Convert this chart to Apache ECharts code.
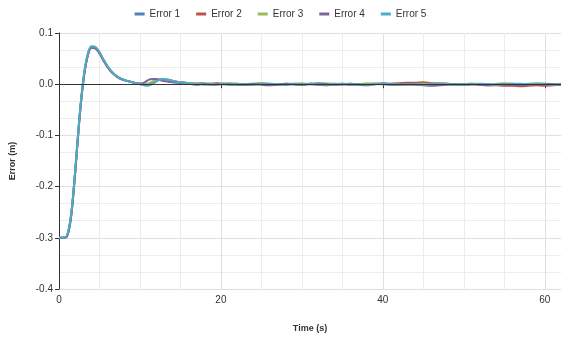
<!DOCTYPE html>
<html>
<head>
<meta charset="utf-8">
<script src="https://cdn.jsdelivr.net/npm/echarts@6/dist/echarts.min.js"></script>
<style>
  html, body { margin: 0; padding: 0; background: #fff; }
  #main { width: 561px; height: 340px; }
</style>
</head>
<body>
<div id="main"></div>
<script>
// time samples (s)
var times = [0,0.5,1,1.5,2,2.5,3,3.5,4,4.5,5,5.5,6,6.5,7,7.5,8,8.5,9,9.5,10,
  10.5,11,11.5,12,12.5,13,13.5,14,14.5,15,15.5,16,16.5,17,17.5,18,18.5,19,19.5,20,
  21,22,23,24,25,26,27,28,29,30,31,32,33,34,35,36,37,38,39,40,
  41,42,43,44,45,46,47,48,49,50,51,52,53,54,55,56,57,58,59,60,61,62];

var seriesNames = ['Error 1', 'Error 2', 'Error 3', 'Error 4', 'Error 5'];
var colors = ['#4f81bd', '#c0504d', '#9bbb59', '#8064a2', '#4bacc6'];

// error values (m)
var error1 = [-0.300,-0.300,-0.296,-0.256,-0.171,-0.071,0.007,0.054,0.072,0.071,
  0.061,0.047,0.034,0.024,0.017,0.012,0.009,0.006,0.004,0.002,
  0.001,0.000,0.001,0.004,0.008,0.009,0.009,0.008,0.006,0.005,
  0.004,0.003,0.002,0.002,0.001,0.001,0.001,0.000,0.001,0.001,0.000,
  0.001,0.000,-0.001,0.000,0.001,0.000,-0.001,0.000,0.001,0.000,
  0.000,-0.001,0.000,0.001,0.000,-0.001,0.000,0.000,0.001,0.000,
  -0.001,0.000,0.001,0.001,0.000,-0.001,0.000,0.000,-0.001,0.000,
  0.001,0.000,0.000,-0.001,-0.001,0.000,0.000,-0.001,0.000,0.000,-0.001,0.000];

var error2 = [-0.300,-0.300,-0.297,-0.258,-0.173,-0.073,0.005,0.052,0.071,0.070,
  0.061,0.047,0.034,0.024,0.017,0.012,0.008,0.006,0.004,0.002,
  0.001,0.000,0.000,0.003,0.007,0.009,0.009,0.008,0.007,0.005,
  0.004,0.003,0.002,0.001,0.001,0.002,0.001,0.000,0.001,0.002,0.001,
  0.000,0.001,-0.001,0.000,0.002,0.000,-0.001,0.001,0.000,-0.001,
  0.001,0.000,-0.002,0.000,0.001,0.000,0.000,-0.001,0.001,0.002,
  0.001,0.002,0.003,0.003,0.004,0.002,0.002,0.001,0.000,-0.001,
  0.000,-0.001,-0.002,-0.002,-0.003,-0.003,-0.004,-0.003,-0.002,-0.003,-0.002,-0.001];

var error3 = [-0.300,-0.300,-0.296,-0.255,-0.170,-0.070,0.008,0.055,0.073,0.072,
  0.062,0.048,0.035,0.025,0.017,0.012,0.009,0.006,0.004,0.002,
  0.001,0.001,0.001,0.005,0.008,0.009,0.008,0.007,0.006,0.005,
  0.004,0.003,0.002,0.002,0.002,0.001,0.001,0.002,0.001,0.000,0.001,
  0.002,0.001,0.000,0.001,0.002,0.001,0.000,-0.001,0.001,0.002,
  0.000,0.001,0.002,0.000,-0.001,0.001,0.000,0.002,0.001,0.000,
  0.001,0.000,-0.001,0.000,0.001,0.000,0.002,0.001,-0.001,0.000,
  0.001,0.000,-0.001,0.001,0.002,0.001,0.000,0.001,0.002,0.001,0.000,0.001];

var error4 = [-0.300,-0.300,-0.297,-0.257,-0.172,-0.072,0.006,0.053,0.071,0.070,
  0.060,0.046,0.033,0.023,0.016,0.011,0.008,0.006,0.004,0.002,
  0.001,0.003,0.008,0.010,0.010,0.008,0.006,0.005,0.004,0.003,
  0.002,0.002,0.001,0.000,-0.001,0.000,0.001,0.000,-0.001,0.000,0.001,
  0.000,-0.001,0.000,0.001,-0.001,-0.002,0.000,0.001,0.000,-0.001,
  0.001,0.002,0.000,-0.001,0.000,0.001,-0.001,-0.002,0.000,0.001,
  0.000,-0.001,0.000,-0.001,-0.002,-0.003,-0.002,-0.001,0.000,-0.001,
  0.000,-0.001,-0.002,-0.001,0.000,-0.001,-0.002,-0.001,0.000,0.001,0.000,-0.001];

var error5 = [-0.300,-0.300,-0.295,-0.254,-0.169,-0.069,0.009,0.056,0.074,0.073,
  0.063,0.048,0.035,0.025,0.017,0.012,0.009,0.006,0.004,0.002,
  0.000,-0.002,-0.003,0.000,0.005,0.009,0.010,0.009,0.007,0.005,
  0.004,0.003,0.002,0.001,0.000,0.000,-0.001,0.000,0.000,-0.001,0.000,
  -0.001,0.000,0.000,-0.001,0.000,0.001,0.000,-0.001,0.000,0.000,
  0.001,0.000,-0.001,0.000,0.001,0.000,0.000,-0.001,0.000,0.001,
  0.000,-0.001,0.000,0.000,-0.001,0.000,0.001,0.000,0.000,-0.001,
  0.000,0.001,0.000,-0.001,0.000,0.001,0.001,0.000,0.001,0.000,-0.001,0.000];

var allErrors = [error1, error2, error3, error4, error5];

var chart = echarts.init(document.getElementById('main'), null, { renderer: 'canvas' });

var series = seriesNames.map(function (name, i) {
  var s = {
    name: name,
    type: 'line',
    smooth: 0.3,
    symbol: 'none',
    lineStyle: { width: 2, color: colors[i] },
    itemStyle: { color: colors[i] },
    data: times.map(function (t, k) { return [t, allErrors[i][k]]; })
  };
  if (i === 0) {
    // dark zero line
    s.markLine = {
      silent: true,
      symbol: ['none', 'none'],
      label: { show: false },
      lineStyle: { color: '#333', type: 'solid', width: 1 },
      data: [{ yAxis: 0 }]
    };
  }
  return s;
});

var option = {
  animation: false,
  textStyle: { fontFamily: 'Liberation Sans' },
  legend: {
    top: 4,
    left: 'center',
    icon: 'rect',
    itemWidth: 10,
    itemHeight: 3,
    itemGap: 16,
    textStyle: { color: '#333', fontSize: 10 },
    data: seriesNames
  },
  grid: { left: 59, right: 0, top: 33, bottom: 51 },
  xAxis: {
    type: 'value',
    min: 0,
    max: 62,
    interval: 20,
    name: 'Time (s)',
    nameLocation: 'middle',
    nameGap: 35,
    nameTextStyle: { fontSize: 9, fontWeight: 'bold', color: '#333' },
    axisLine: { lineStyle: { color: '#333' } },
    axisTick: { show: true, length: 4, lineStyle: { color: '#333' } },
    axisLabel: { color: '#333', fontSize: 10, margin: 6, showMaxLabel: false },
    splitLine: { show: true, lineStyle: { color: '#e0e0e0' } },
    minorTick: { show: false, splitNumber: 4 },
    minorSplitLine: { show: true, lineStyle: { color: '#ececec' } }
  },
  yAxis: {
    type: 'value',
    min: -0.4,
    max: 0.1,
    interval: 0.1,
    name: 'Error (m)',
    nameLocation: 'middle',
    nameGap: 42,
    nameTextStyle: { fontSize: 9, fontWeight: 'bold', color: '#333' },
    axisLine: { show: true, lineStyle: { color: '#333' } },
    axisTick: { show: true, length: 4, lineStyle: { color: '#333' } },
    axisLabel: {
      color: '#333', fontSize: 10, margin: 6,
      formatter: function (v) { return v.toFixed(1); }
    },
    splitLine: { show: true, lineStyle: { color: '#e0e0e0' } },
    minorTick: { show: false, splitNumber: 3 },
    minorSplitLine: { show: true, lineStyle: { color: '#ececec' } }
  },
  series: series
};

chart.setOption(option);
</script>
</body>
</html>
